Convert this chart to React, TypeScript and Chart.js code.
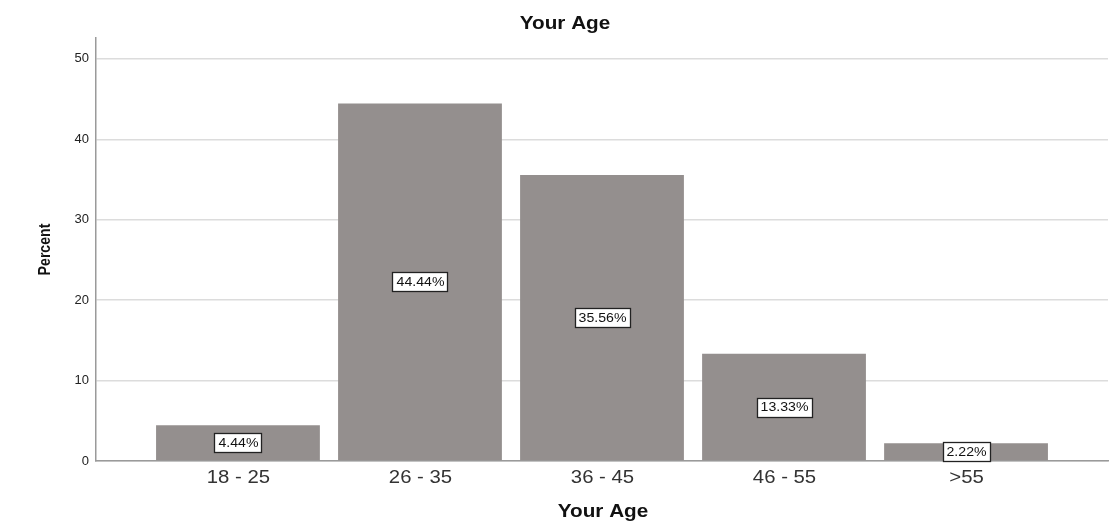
import React, { useEffect, useRef } from "react";
import { Chart, registerables } from "chart.js";

Chart.register(...registerables);

const ageGroups = ["18 - 25", "26 - 35", "36 - 45", "46 - 55", ">55"];
const percentValues = [4.44, 44.44, 35.56, 13.33, 2.22];
const yTicks = [0, 10, 20, 30, 40, 50];

const chartTitle = "Your Age";
const xAxisTitle = "Your Age";
const yAxisTitle = "Percent";

const FONT = "'Liberation Sans', Arial, sans-serif";
const STRETCH = 1.13; // text in this chart is set slightly wide

function wideText(ctx: CanvasRenderingContext2D, text: string, x: number, y: number, sx = STRETCH) {
  ctx.save();
  ctx.translate(x, y);
  ctx.scale(sx, 1);
  ctx.fillText(text, 0, 0);
  ctx.restore();
}

// Boxed value labels centred in each bar, category labels, and the titles.
const annotationsPlugin = {
  id: "annotations",
  afterDatasetsDraw(chart: any) {
    const ctx = chart.ctx as CanvasRenderingContext2D;
    const meta = chart.getDatasetMeta(0);
    ctx.save();
    ctx.font = `12.5px ${FONT}`;
    ctx.textAlign = "center";
    ctx.textBaseline = "middle";
    meta.data.forEach((bar: any, i: number) => {
      const text = percentValues[i].toFixed(2) + "%";
      const cx = bar.x;
      const cy = (bar.y + bar.base) / 2;
      const w = Math.round(ctx.measureText(text).width * STRETCH) + 7;
      const h = 19;
      const x0 = Math.round(cx - w / 2) + 0.5;
      const y0 = Math.round(cy - h / 2) + 0.5;
      ctx.fillStyle = "#ffffff";
      ctx.fillRect(x0, y0, w, h);
      ctx.strokeStyle = "#222222";
      ctx.lineWidth = 1.3;
      ctx.strokeRect(x0, y0, w, h);
      ctx.fillStyle = "#111111";
      wideText(ctx, text, cx + 0.5, cy + 1);
    });
    ctx.restore();
  },
  afterDraw(chart: any) {
    const ctx = chart.ctx as CanvasRenderingContext2D;
    const area = chart.chartArea;
    const xScale = chart.scales.x;
    ctx.save();
    ctx.textAlign = "center";
    ctx.textBaseline = "middle";

    // category labels under the axis
    ctx.fillStyle = "#333333";
    ctx.font = `18px ${FONT}`;
    ageGroups.forEach((label, i) => {
      wideText(ctx, label, xScale.getPixelForValue(i) + 0.5, 478);
    });

    ctx.fillStyle = "#111111";
    ctx.font = `bold 18px ${FONT}`;
    wideText(ctx, chartTitle, 565, 24, 1.15);
    wideText(ctx, xAxisTitle, (area.left + area.right) / 2 + 1, 512, 1.15);

    ctx.translate(45, (area.top + area.bottom) / 2);
    ctx.rotate(-Math.PI / 2);
    ctx.scale(0.83, 1);
    ctx.font = `bold 17px ${FONT}`;
    ctx.fillText(yAxisTitle, 0, 0);
    ctx.restore();
  },
};

export default function App() {
  const canvasRef = useRef<HTMLCanvasElement | null>(null);

  useEffect(() => {
    if (!canvasRef.current) return;
    const chart = new Chart(canvasRef.current, {
      type: "bar",
      data: {
        datasets: [
          {
            data: percentValues.map((v, i) => ({ x: i, y: v })),
            backgroundColor: "#948f8e",
            borderWidth: 0,
            barPercentage: 0.9,
            categoryPercentage: 1,
          },
        ],
      },
      options: {
        animation: false,
        responsive: false,
        maintainAspectRatio: false,
        layout: { padding: { top: 38, right: 2, bottom: 0, left: 0 } },
        plugins: {
          legend: { display: false },
          title: { display: false },
          tooltip: { enabled: false },
        },
        scales: {
          x: {
            type: "linear",
            offset: false,
            min: -0.78,
            max: 4.78,
            afterBuildTicks(scale: any) {
              scale.ticks = ageGroups.map((_, i) => ({ value: i }));
            },
            afterFit(scale: any) {
              scale.height = 66;
            },
            ticks: { display: false },
            grid: { display: false, drawTicks: false },
            border: { color: "#9a9a9a", width: 1.5 },
          },
          y: {
            min: 0,
            max: 52.6,
            afterBuildTicks(scale: any) {
              scale.ticks = yTicks.map((v) => ({ value: v }));
            },
            afterFit(scale: any) {
              scale.width = 96;
            },
            ticks: {
              padding: 7,
              color: "#222222",
              font: { family: FONT, size: 13 },
            },
            grid: { color: "#dcdcdc", lineWidth: 1.5, drawTicks: false },
            border: { color: "#9a9a9a", width: 1.5 },
          },
        },
      },
      plugins: [annotationsPlugin],
    });
    return () => chart.destroy();
  }, []);

  return (
    <div
      style={{
        position: "absolute",
        left: 0,
        top: 0,
        width: 1110,
        height: 527,
        background: "#ffffff",
      }}
    >
      <canvas ref={canvasRef} width={1110} height={527} />
    </div>
  );
}
